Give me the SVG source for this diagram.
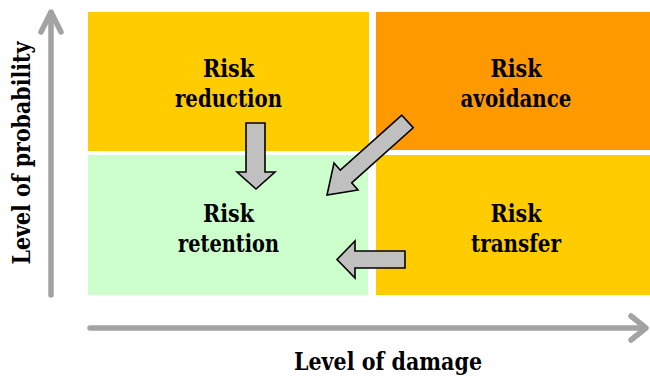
<svg xmlns="http://www.w3.org/2000/svg" width="650" height="376" viewBox="0 0 650 376">
<style>
text{font-family:"DejaVu Serif",serif;font-weight:700;font-size:23.5px;fill:#000;text-anchor:middle}
.axis{fill:none;stroke:#A3A3A3;stroke-width:5.5;stroke-linecap:round;stroke-linejoin:round}
.blk{fill:#C0C0C0;stroke:#000;stroke-width:1.6;stroke-linejoin:miter}
</style>
<rect width="650" height="376" fill="#fff"/>
<g id="reduction">
<rect x="88" y="12" width="281" height="139" fill="#FFCC00"/>
<text x="228.5" y="77" textLength="51" lengthAdjust="spacingAndGlyphs">Risk</text>
<text x="228.5" y="107" textLength="107" lengthAdjust="spacingAndGlyphs">reduction</text>
</g>
<g id="avoidance">
<rect x="376" y="12" width="274" height="138" fill="#FF9900"/>
<text x="516" y="77" textLength="51" lengthAdjust="spacingAndGlyphs">Risk</text>
<text x="516" y="107" textLength="111" lengthAdjust="spacingAndGlyphs">avoidance</text>
</g>
<g id="retention">
<rect x="88" y="155" width="280" height="140" fill="#CCFFCC"/>
<text x="228.5" y="222" textLength="51" lengthAdjust="spacingAndGlyphs">Risk</text>
<text x="228.5" y="252" textLength="101" lengthAdjust="spacingAndGlyphs">retention</text>
</g>
<g id="transfer">
<rect x="376" y="155" width="274" height="140" fill="#FFCC00"/>
<text x="516" y="222" textLength="51" lengthAdjust="spacingAndGlyphs">Risk</text>
<text x="516" y="252" textLength="90" lengthAdjust="spacingAndGlyphs">transfer</text>
</g>
<g id="axes">
<line class="axis" x1="51" y1="295" x2="51" y2="13"/>
<polyline class="axis" points="41,32 51,12 61,32"/>
<line class="axis" x1="90" y1="328" x2="644" y2="328"/>
<polyline class="axis" points="631,316 646,328 631,340"/>
<text x="0" y="0" transform="translate(29.5,153) rotate(-90)" textLength="223" lengthAdjust="spacingAndGlyphs">Level of probability</text>
<text x="388" y="370" textLength="188" lengthAdjust="spacingAndGlyphs">Level of damage</text>
</g>
<g id="connectors">
<polygon class="blk" points="246,123 265,123 265,172 275,172 256,189 237,172 246,172"/>
<polygon class="blk" points="401.8,115.2 413.2,127.8 351.7,182.8 358,190 327,195 334,163 340.3,170.2"/>
<polygon class="blk" points="405,251 355,251 355,241 337,259.5 355,278 355,268 405,268"/>
</g>
</svg>
